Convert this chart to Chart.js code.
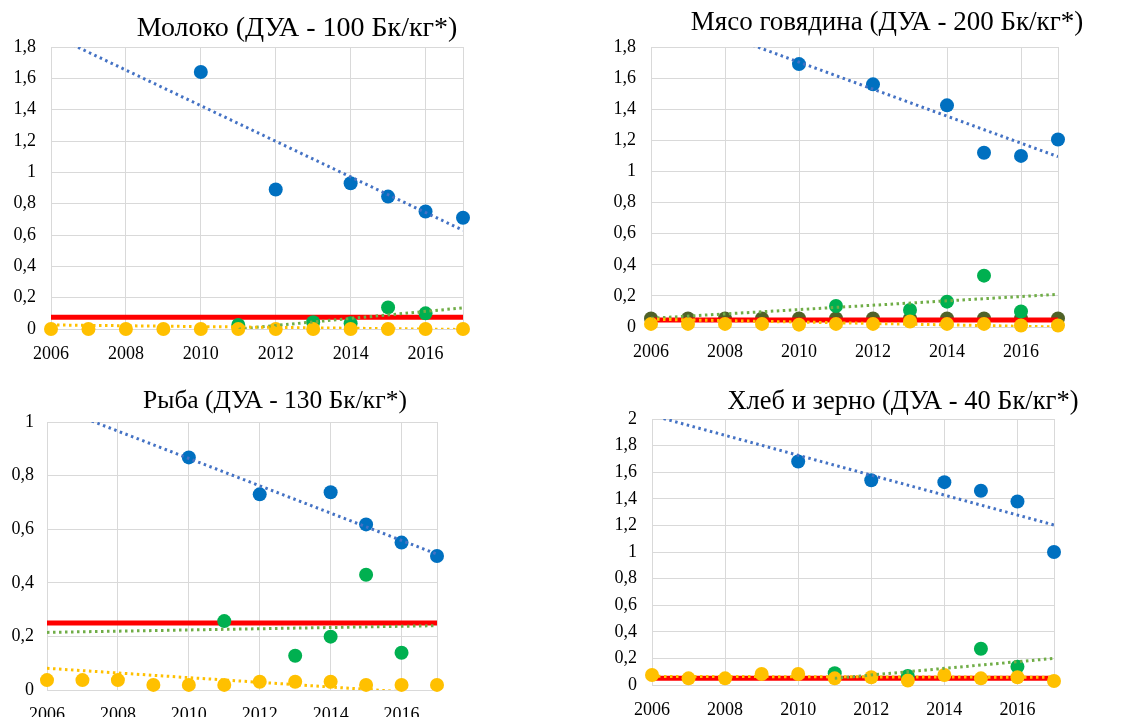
<!DOCTYPE html>
<html>
<head>
<meta charset="utf-8">
<script src="https://cdn.jsdelivr.net/npm/chart.js@4.4.1/dist/chart.umd.min.js"></script>
<style>
  html, body { margin: 0; padding: 0; background: #fff; overflow: hidden; }
  body { width: 1121px; height: 717px; position: relative; }
  .panel { position: absolute; }
</style>
</head>
<body>
<div class="panel" id="p1"><canvas id="c1"></canvas></div>
<div class="panel" id="p2"><canvas id="c2"></canvas></div>
<div class="panel" id="p3"><canvas id="c3"></canvas></div>
<div class="panel" id="p4"><canvas id="c4"></canvas></div>
<script>
const years = [2006, 2007, 2008, 2009, 2010, 2011, 2012, 2013, 2014, 2015, 2016, 2017]
const xTicks = [2006, 2008, 2010, 2012, 2014, 2016, 2017]
const fullSpan = [2006, 2017]
const lateSpan = [2011, 2017]

// Молоко
const milkBlue = [null, null, null, null, 1.64, null, 0.89, null, 0.93, 0.845, 0.75, 0.71]
const milkGreen = [null, null, null, null, null, 0.026, null, 0.043, 0.036, 0.138, 0.10, null]
const milkYellow = [0, 0, 0, 0, 0, 0, 0, 0, 0, 0, 0, 0]
const milkLimit = [0.075, 0.075]
const milkBlueTrend = [1.88, 0.63]
const milkGreenTrend = [0.0, 0.135]
const milkYellowTrend = [0.026, -0.003]

// Мясо говядина
const beefBlue = [null, null, null, null, 1.69, null, 1.56, null, 1.425, 1.12, 1.10, 1.205]
const beefGreen = [null, null, null, null, null, 0.135, null, 0.11, 0.163, 0.33, 0.10, null]
const beefYellow = [0.02, 0.02, 0.02, 0.02, 0.015, 0.02, 0.02, 0.035, 0.02, 0.02, 0.01, 0.01]
const beefOlive = [0.055, 0.055, 0.055, 0.055, 0.055, 0.055, 0.055, 0.055, 0.055, 0.055, 0.055, 0.055]
const beefLimit = [0.045, 0.045]
const beefBlueTrend = [2.05, 1.095]
const beefGreenTrend = [0.056, 0.21]
const beefYellowTrend = [0.05, 0.0]

// Рыба
const fishBlue = [null, null, null, null, 0.868, null, 0.73, null, 0.738, 0.618, 0.55, 0.50]
const fishGreen = [null, null, null, null, null, 0.257, null, 0.128, 0.199, 0.43, 0.139, null]
const fishYellow = [0.037, 0.037, 0.037, 0.019, 0.019, 0.019, 0.031, 0.031, 0.031, 0.019, 0.019, 0.019]
const fishLimit = [0.25, 0.25]
const fishBlueTrend = [1.068, 0.507]
const fishGreenTrend = [0.215, 0.24]
const fishYellowTrend = [0.081, -0.015]

// Хлеб и зерно
const breadBlue = [null, null, null, null, 1.68, null, 1.54, null, 1.525, 1.46, 1.38, 1.0]
const breadGreen = [null, null, null, null, null, 0.088, null, 0.068, null, 0.273, 0.138, null]
const breadYellow = [0.075, 0.05, 0.05, 0.083, 0.083, 0.05, 0.058, 0.033, 0.075, 0.05, 0.058, 0.03]
const breadLimit = [0.05, 0.05]
const breadBlueTrend = [2.027, 1.203]
const breadGreenTrend = [0.05, 0.20]
const breadYellowTrend = [0.065, 0.058]

const BLUE = '#0070c0'
const GREEN = '#00b050'
const YELLOW = '#ffc000'
const OLIVE = '#4f6228'
const RED = '#ff0000'
const GRID = '#d9d9d9'

function toPoints(xs, ys) {
  return xs.map((x, i) => ({ x: x, y: ys[i] })).filter((p) => p.y !== null)
}

function dots(ys, color, order) {
  return {
    data: toPoints(years, ys),
    backgroundColor: color,
    borderColor: color,
    pointRadius: 7,
    pointBorderWidth: 0,
    showLine: false,
    clip: false,
    order: order,
  }
}

function trend(xs, ys, color, order) {
  return {
    data: toPoints(xs, ys),
    borderColor: color,
    borderWidth: 3,
    borderDash: [2.5, 3.5],
    pointRadius: 0,
    showLine: true,
    clip: 0,
    order: order,
  }
}

function limit(ys) {
  return {
    data: toPoints(fullSpan, ys),
    borderColor: RED,
    borderWidth: 5,
    pointRadius: 0,
    showLine: true,
    order: 6,
  }
}

function fmtY(v) {
  return String(Math.round(v * 10) / 10).replace('.', ',')
}

function makeChart(cfg) {
  const box = document.getElementById(cfg.box)
  box.style.left = cfg.left + 'px'
  box.style.top = cfg.top + 'px'
  const canvas = document.getElementById(cfg.canvas)
  canvas.width = cfg.width
  canvas.height = cfg.height
  canvas.style.width = cfg.width + 'px'
  canvas.style.height = cfg.height + 'px'

  // title box: text middle at cfg.titleMid, plot top at cfg.plotTop
  const lineH = cfg.titleSize * 1.2
  const padTop = cfg.titleMid - lineH / 2
  const padBottom = cfg.plotTop - padTop - lineH

  return new Chart(canvas, {
    type: 'scatter',
    data: { datasets: cfg.datasets },
    options: {
      responsive: false,
      animation: false,
      events: [],
      layout: { padding: 0 },
      plugins: {
        legend: { display: false },
        tooltip: { enabled: false },
        title: {
          display: true,
          text: cfg.title,
          color: '#000',
          font: { family: 'Liberation Serif', size: cfg.titleSize, weight: 'normal', lineHeight: 1.2 },
          padding: { top: padTop, bottom: padBottom },
        },
      },
      scales: {
        x: {
          type: 'linear',
          min: 2006,
          max: 2017,
          afterBuildTicks: (scale) => {
            scale.ticks = xTicks.map((v) => ({ value: v }))
          },
          afterFit: (scale) => {
            scale.height = cfg.xHeight
          },
          grid: { color: GRID, drawTicks: false },
          border: { display: false },
          ticks: {
            color: '#000',
            padding: 14,
            maxRotation: 0,
            autoSkip: false,
            font: { family: 'Liberation Serif', size: 18 },
            callback: (v) => (v === 2017 ? '' : String(v)),
          },
        },
        y: {
          min: 0,
          max: cfg.yMax,
          afterFit: (scale) => {
            scale.width = cfg.yWidth
          },
          grid: { color: GRID, drawTicks: false },
          border: { color: GRID },
          ticks: {
            stepSize: 0.2,
            color: '#000',
            padding: cfg.yPad,
            font: { family: 'Liberation Serif', size: 18 },
            callback: (v) => fmtY(v),
          },
        },
        yR: {
          position: 'right',
          display: true,
          grid: { display: false },
          border: { display: false },
          ticks: { display: false },
          afterFit: (scale) => {
            scale.width = cfg.rightWidth
          },
        },
      },
    },
  })
}

makeChart({
  box: 'p1', canvas: 'c1', left: 0, top: 0, width: 594, height: 360,
  title: 'Молоко (ДУА - 100 Бк/кг*)', titleSize: 28, titleMid: 29, plotTop: 47,
  yMax: 1.8, yWidth: 51, yPad: 15, rightWidth: 131, xHeight: 31,
  datasets: [
    trend(fullSpan, milkYellowTrend, YELLOW, 0),
    trend(lateSpan, milkGreenTrend, '#70ad47', 1),
    trend(fullSpan, milkBlueTrend, '#4472c4', 2),
    dots(milkYellow, YELLOW, 3),
    dots(milkGreen, GREEN, 4),
    dots(milkBlue, BLUE, 5),
    limit(milkLimit),
  ],
})

makeChart({
  box: 'p2', canvas: 'c2', left: 600, top: 0, width: 574, height: 360,
  title: 'Мясо говядина (ДУА - 200 Бк/кг*)', titleSize: 27, titleMid: 23, plotTop: 47,
  yMax: 1.8, yWidth: 51, yPad: 15, rightWidth: 116, xHeight: 33,
  datasets: [
    trend(fullSpan, beefYellowTrend, YELLOW, 0),
    trend(fullSpan, beefGreenTrend, '#70ad47', 1),
    trend(fullSpan, beefBlueTrend, '#4472c4', 2),
    dots(beefYellow, YELLOW, 3),
    dots(beefGreen, GREEN, 4),
    dots(beefBlue, BLUE, 5),
    limit(beefLimit),
    dots(beefOlive, OLIVE, 7),
  ],
})

makeChart({
  box: 'p3', canvas: 'c3', left: 0, top: 360, width: 550, height: 357,
  title: 'Рыба (ДУА - 130 Бк/кг*)', titleSize: 25.5, titleMid: 41.5, plotTop: 62,
  yMax: 1, yWidth: 47, yPad: 13, rightWidth: 113, xHeight: 27,
  datasets: [
    trend(fullSpan, fishYellowTrend, YELLOW, 0),
    trend(fullSpan, fishGreenTrend, '#70ad47', 1),
    trend(fullSpan, fishBlueTrend, '#4472c4', 2),
    dots(fishYellow, YELLOW, 3),
    dots(fishGreen, GREEN, 4),
    dots(fishBlue, BLUE, 5),
    limit(fishLimit),
  ],
})

makeChart({
  box: 'p4', canvas: 'c4', left: 600, top: 360, width: 606, height: 357,
  title: 'Хлеб и зерно (ДУА - 40 Бк/кг*)', titleSize: 26.5, titleMid: 42, plotTop: 59,
  yMax: 2, yWidth: 52, yPad: 15, rightWidth: 152, xHeight: 32,
  datasets: [
    trend(fullSpan, breadYellowTrend, YELLOW, 0),
    trend(lateSpan, breadGreenTrend, '#70ad47', 1),
    trend(fullSpan, breadBlueTrend, '#4472c4', 2),
    dots(breadYellow, YELLOW, 3),
    dots(breadGreen, GREEN, 4),
    dots(breadBlue, BLUE, 5),
    limit(breadLimit),
  ],
})
</script>
</body>
</html>
